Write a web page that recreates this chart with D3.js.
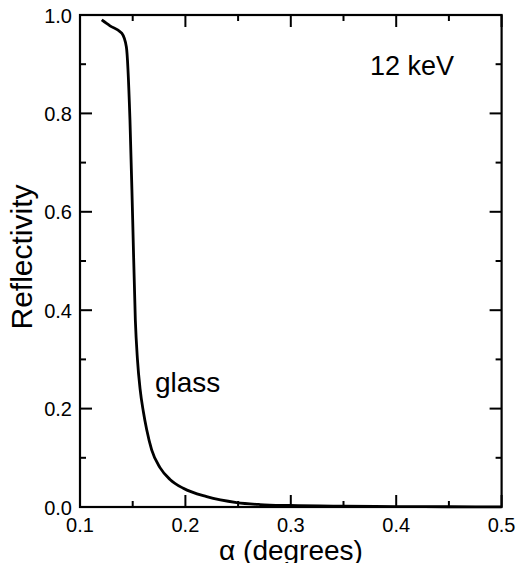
<!DOCTYPE html>
<html><head><meta charset="utf-8">
<script src="https://cdn.jsdelivr.net/npm/d3@7"></script>
<style>body{margin:0;background:#fff}svg{display:block}text{font-family:"Liberation Sans",Arial,sans-serif;fill:#000}</style>
</head><body><svg id="c" width="518" height="563"></svg>
<script>
const alpha = [0.1206,0.1285,0.1396,0.1440,0.1474,0.1500,0.1525,0.1545,0.1570,0.1600,0.1633,0.1680,0.1759,0.1854,0.1980,0.2202,0.2487,0.2708,0.2992,0.35,0.40,0.45,0.50];
const reflectivity = [0.990,0.978,0.963,0.935,0.787,0.583,0.380,0.300,0.240,0.195,0.157,0.116,0.080,0.056,0.038,0.021,0.009,0.005,0.003,0.0015,0.0008,0.0005,0.0003];
const xMajor = [0.1,0.2,0.3,0.4,0.5];
const xMinor = [0.15,0.25,0.35,0.45];
const yMajor = [0.0,0.2,0.4,0.6,0.8,1.0];
const yMinor = [0.1,0.3,0.5,0.7,0.9];

const svg = d3.select("#c");
const L=80, R=501.6, T=15, B=507;
const x = d3.scaleLinear().domain([0.1,0.5]).range([L,R]);
const y = d3.scaleLinear().domain([0,1]).range([B,T]);
const g = svg.append("g");
const maj=12, mn=6;

function ticks(vals, len){
  vals.forEach(v=>{
    g.append("line").attr("x1",x(v)).attr("x2",x(v)).attr("y1",B).attr("y2",B-len).attr("stroke","#000").attr("stroke-width",2);
    g.append("line").attr("x1",x(v)).attr("x2",x(v)).attr("y1",T).attr("y2",T+len).attr("stroke","#000").attr("stroke-width",2);
  });
}
function yticks(vals, len){
  vals.forEach(v=>{
    g.append("line").attr("y1",y(v)).attr("y2",y(v)).attr("x1",L).attr("x2",L+len).attr("stroke","#000").attr("stroke-width",2);
    g.append("line").attr("y1",y(v)).attr("y2",y(v)).attr("x1",R).attr("x2",R-len).attr("stroke","#000").attr("stroke-width",2);
  });
}
ticks(xMajor,maj); ticks(xMinor,mn); yticks(yMajor,maj); yticks(yMinor,mn);

g.append("rect").attr("x",L).attr("y",T).attr("width",R-L).attr("height",B-T).attr("fill","none").attr("stroke","#000").attr("stroke-width",2.2);

const line = d3.line().x((d,i)=>x(alpha[i])).y((d,i)=>y(reflectivity[i])).curve(d3.curveMonotoneX);
g.append("path").datum(alpha).attr("d",line).attr("fill","none").attr("stroke","#000").attr("stroke-width",2.8).attr("stroke-linejoin","round");

xMajor.forEach(v=>g.append("text").attr("x",x(v)).attr("y",531.5).attr("text-anchor","middle").attr("font-size",20).text(d3.format(".1f")(v)));
yMajor.forEach(v=>g.append("text").attr("x",72).attr("y",y(v)+7.5).attr("text-anchor","end").attr("font-size",20).text(d3.format(".1f")(v)));

g.append("text").attr("x",291).attr("y",560).attr("text-anchor","middle").attr("font-size",28).text("α (degrees)");
g.append("text").attr("transform","translate(32,257) rotate(-90)").attr("text-anchor","middle").attr("font-size",30).text("Reflectivity");
g.append("text").attr("x",370).attr("y",75).attr("font-size",27).text("12 keV");
g.append("text").attr("x",155).attr("y",392).attr("font-size",28).text("glass");
</script></body></html>
